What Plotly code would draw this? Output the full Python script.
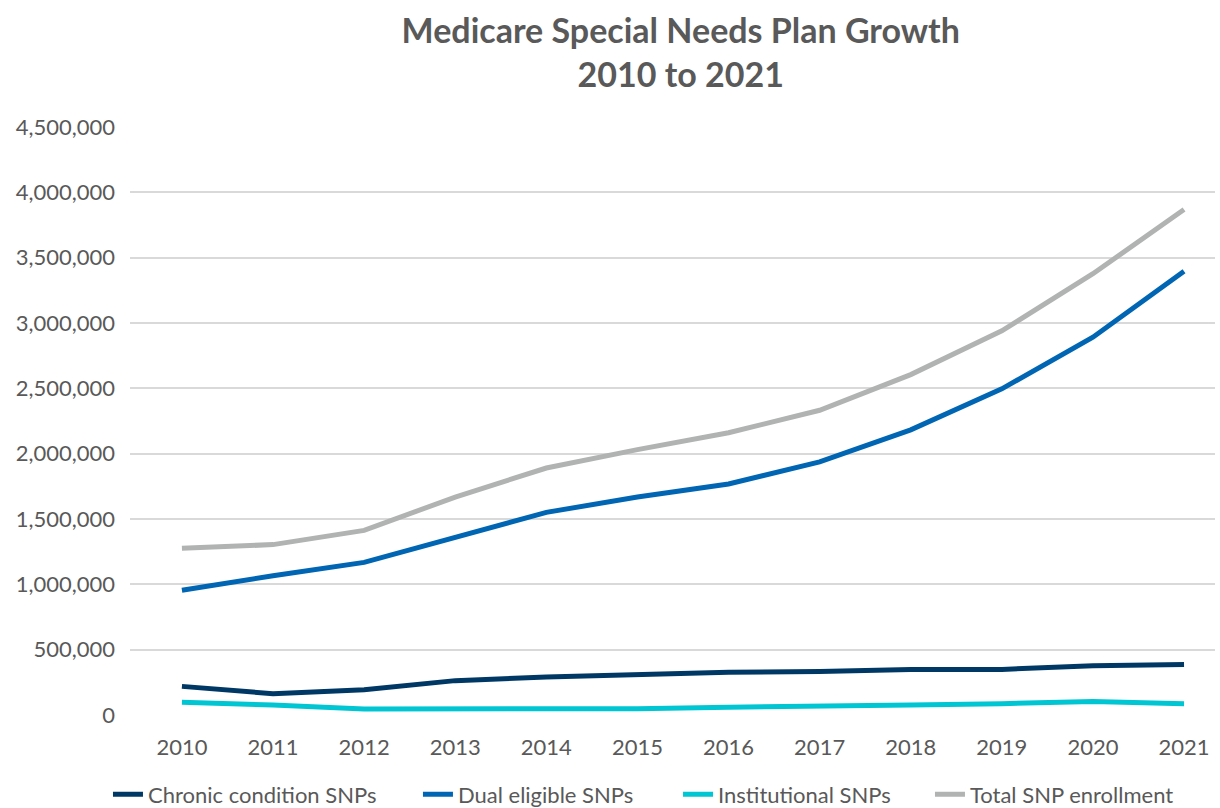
import plotly.graph_objects as go

years = [2010, 2011, 2012, 2013, 2014, 2015, 2016, 2017, 2018, 2019, 2020, 2021]
chronic = [219000, 163000, 194000, 263000, 291000, 309000, 327000, 333000, 349000, 349000, 376000, 387000]
dual = [954000, 1066000, 1168000, 1362000, 1551000, 1668000, 1768000, 1937000, 2182000, 2496000, 2891000, 3396000]
institutional = [97000, 77000, 46000, 46000, 46000, 48000, 60000, 65000, 76000, 87000, 104000, 87000]
total = [1276000, 1304000, 1413000, 1668000, 1890000, 2031000, 2160000, 2332000, 2605000, 2940000, 3377000, 3868000]

series = [
    ("Chronic condition SNPs", chronic, "#003865"),
    ("Dual eligible SNPs", dual, "#0066b3"),
    ("Institutional SNPs", institutional, "#00c5d2"),
    ("Total SNP enrollment", total, "#b1b3b3"),
]

FONT = "Lato"
TXT = "#595959"
legend_ids = ["legend", "legend2", "legend3", "legend4"]
legend_x = [-0.0203, 0.2654, 0.5051, 0.7373]

fig = go.Figure()
for (name, vals, color), lid in zip(series, legend_ids):
    fig.add_trace(go.Scatter(
        x=years, y=vals, name=name, mode="lines",
        line=dict(color=color, width=5), legend=lid,
    ))

legend_layout = {}
for lid, lx in zip(legend_ids, legend_x):
    legend_layout[lid] = dict(
        orientation="h", x=lx, xanchor="left", y=-0.135, yanchor="middle",
        font=dict(family=FONT, size=22, color=TXT),
        itemwidth=30, bgcolor="rgba(0,0,0,0)",
    )

fig.update_layout(
    width=1220, height=808,
    paper_bgcolor="white", plot_bgcolor="white",
    margin=dict(l=130, r=5, t=127, b=93, autoexpand=False),
    font=dict(family=FONT, color=TXT, size=22),
    title=dict(
        text="<b>Medicare Special Needs Plan Growth<br>2010 to 2021</b>",
        x=0.558, xanchor="center", y=0.947, yanchor="top",
        font=dict(family=FONT, size=34, color=TXT),
    ),
    showlegend=True,
    xaxis=dict(
        range=[2009.43, 2021.34], tickmode="array", tickvals=years,
        ticktext=[str(y) for y in years], showgrid=False, zeroline=False,
        showline=False, ticks="", tickfont=dict(size=22, color=TXT),
        ticklabelstandoff=17,
    ),
    yaxis=dict(
        range=[0, 4500000], dtick=500000, tickformat=",d",
        showgrid=True, gridcolor="#d9d9d9", gridwidth=1.5,
        zeroline=False, showline=False, ticks="",
        tickfont=dict(size=22, color=TXT), ticklabelstandoff=14,
    ),
    **legend_layout,
)

fig.write_html(
    "out.html",
    config={"displayModeBar": False},
    post_script="document.body.style.margin='0';document.body.style.overflow='hidden';",
)
